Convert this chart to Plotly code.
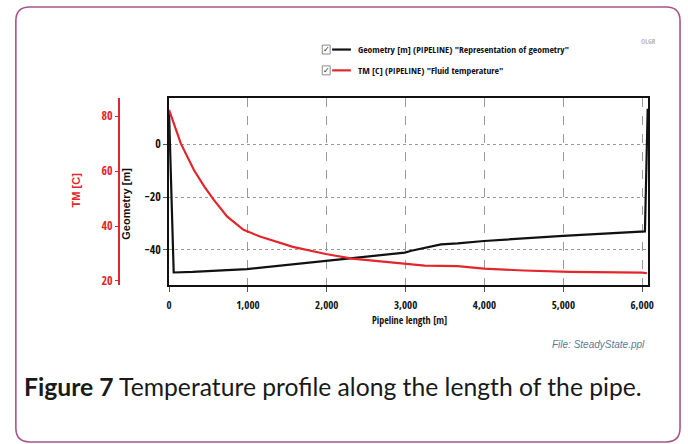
import plotly.graph_objects as go

W, H = 688, 444

# ---- data ----
dist_tm = [0, 50, 150, 317, 450, 568, 735, 944, 1153, 1570, 1988, 2322, 2823, 3241, 3659, 3994, 4496, 5080, 6000, 6060]
tm_c = [82.3, 78.0, 70.0, 60.3, 54.3, 49.5, 43.5, 38.6, 36.2, 32.4, 29.8, 28.1, 26.6, 25.6, 25.4, 24.5, 23.8, 23.3, 23.0, 22.8]

dist_geo = [0, 30, 59, 300, 988, 1990, 2322, 2990, 3073, 3449, 3659, 3994, 4996, 6000, 6035, 6070]
geometry_m = [12.0, -17.0, -48.5, -48.3, -47.2, -44.1, -43.1, -41.0, -40.3, -37.9, -37.5, -36.6, -34.7, -33.2, -33.0, 13.4]

x_ticks = [0, 1000, 2000, 3000, 4000, 5000, 6000]
geo_ticks = [-40, -20, 0]
tm_ticks = [20, 40, 60, 80]

legend_labels = ['Geometry [m] (PIPELINE) "Representation of geometry"',
                 'TM [C] (PIPELINE) "Fluid temperature"']

RED = "#e3262b"
BLACK = "#111111"
NARROW = "Open Sans Condensed, DejaVu Sans Condensed, Liberation Sans, sans-serif"
BOLD = "Liberation Sans, Arial, sans-serif"


def px(x):
    return x / W


def py(y):
    return 1 - y / H


plot_l, plot_r, plot_t, plot_b = 168, 653, 99, 287.5

fig = go.Figure()
fig.add_trace(go.Scatter(x=dist_geo, y=geometry_m, mode="lines",
                         line=dict(color=BLACK, width=2.2), yaxis="y", showlegend=False))
fig.add_trace(go.Scatter(x=dist_tm, y=tm_c, mode="lines",
                         line=dict(color=RED, width=2.2), yaxis="y2", showlegend=False))

fig.update_layout(
    width=W, height=H, margin=dict(l=0, r=0, t=0, b=0),
    paper_bgcolor="white", plot_bgcolor="white",
    xaxis=dict(domain=[px(plot_l), px(plot_r)], range=[0, 6079],
               tickvals=x_ticks, tickformat=",", showline=True, mirror=True,
               linecolor=BLACK, linewidth=1.6, ticks="outside", ticklen=5,
               tickcolor="#555", showgrid=True, gridcolor="#9a9a9a", griddash="dash",
               gridwidth=1, zeroline=False, ticklabelstandoff=4,
               tickfont=dict(family=NARROW, size=11, color=BLACK)),
    yaxis=dict(domain=[py(plot_b), py(plot_t)], range=[-53.2, 17.4],
               tickvals=geo_ticks, showline=True, mirror=True,
               linecolor=BLACK, linewidth=1.6, ticks="outside", ticklen=4,
               tickcolor="#555", showgrid=True, gridcolor="#9a9a9a", griddash="dot",
               gridwidth=1, zeroline=False,
               tickfont=dict(family=NARROW, size=12, color=BLACK)),
    yaxis2=dict(domain=[py(plot_b), py(plot_t)], range=[18.55, 86.6],
                overlaying="y", anchor="free", position=px(117), side="left",
                tickvals=tm_ticks, showline=True, linecolor=RED, linewidth=1.5,
                ticks="outside", ticklen=3, tickcolor=RED, showgrid=False,
                zeroline=False, tickfont=dict(family=NARROW, size=12, color=RED)),
)

shapes = []
# rounded outer frame
x0, y0, x1, y1, r = 13, 7, 685, 446, 14
path = (f"M {px(x0)} {py(y0 + r)} Q {px(x0)} {py(y0)} {px(x0 + r)} {py(y0)} "
        f"L {px(x1 - r)} {py(y0)} Q {px(x1)} {py(y0)} {px(x1)} {py(y0 + r)} "
        f"L {px(x1)} {py(y1 - r)} Q {px(x1)} {py(y1)} {px(x1 - r)} {py(y1)} "
        f"L {px(x0 + r)} {py(y1)} Q {px(x0)} {py(y1)} {px(x0)} {py(y1 - r)} Z")
shapes.append(dict(type="path", xref="paper", yref="paper", path=path,
                   line=dict(color="#a8548c", width=1.6), layer="below"))

# custom legend
legend_rows = [(50, BLACK), (71, RED)]
for (ly, col), label in zip(legend_rows, legend_labels):
    shapes.append(dict(type="rect", xref="paper", yref="paper",
                       x0=px(323), x1=px(331), y0=py(ly - 4.5), y1=py(ly + 4.5),
                       line=dict(color="#8a8a8a", width=1), fillcolor="white"))
    shapes.append(dict(type="line", xref="paper", yref="paper",
                       x0=px(333), x1=px(352), y0=py(ly), y1=py(ly),
                       line=dict(color=col, width=2.2)))
fig.update_layout(shapes=shapes)

ann = []
for (ly, col), label in zip(legend_rows, legend_labels):
    ann.append(dict(x=px(327), y=py(ly), xref="paper", yref="paper", text="✓",
                    showarrow=False, xanchor="center", yanchor="middle",
                    font=dict(family="DejaVu Sans", size=8, color="#222")))
    ann.append(dict(x=px(357), y=py(ly), xref="paper", yref="paper", text=label,
                    showarrow=False, xanchor="left", yanchor="middle",
                    font=dict(family=NARROW, size=9.6, color=BLACK)))

ann += [
    dict(x=px(653), y=py(42), xref="paper", yref="paper", text="OLGR", showarrow=False,
         xanchor="center", yanchor="middle", font=dict(family=NARROW, size=7, color="#b8b8b8")),
    dict(x=px(74), y=py(192), xref="paper", yref="paper", text="<b>TM [C]</b>", textangle=-90,
         showarrow=False, xanchor="center", yanchor="middle",
         font=dict(family=BOLD, size=11, color=RED)),
    dict(x=px(125), y=py(206), xref="paper", yref="paper", text="<b>Geometry [m]</b>", textangle=-90,
         showarrow=False, xanchor="center", yanchor="middle",
         font=dict(family=BOLD, size=11, color=BLACK)),
    dict(x=px(411), y=py(323), xref="paper", yref="paper", text="Pipeline length [m]",
         showarrow=False, xanchor="center", yanchor="middle",
         font=dict(family=NARROW, size=10, color=BLACK)),
    dict(x=px(652), y=py(348), xref="paper", yref="paper", text="<i>File: SteadyState.ppl</i>",
         showarrow=False, xanchor="right", yanchor="middle",
         font=dict(family="Liberation Sans, Arial, sans-serif", size=10, color="#5b7a99")),
    dict(x=px(19), y=py(390), xref="paper", yref="paper",
         text="<b>Figure 7</b> Temperature profile along the length of the pipe.",
         showarrow=False, xanchor="left", yanchor="middle",
         font=dict(family="Lato, sans-serif", size=24.7, color="#1a1a1a")),
]
fig.update_layout(annotations=ann)

fig.write_html("out.html")
